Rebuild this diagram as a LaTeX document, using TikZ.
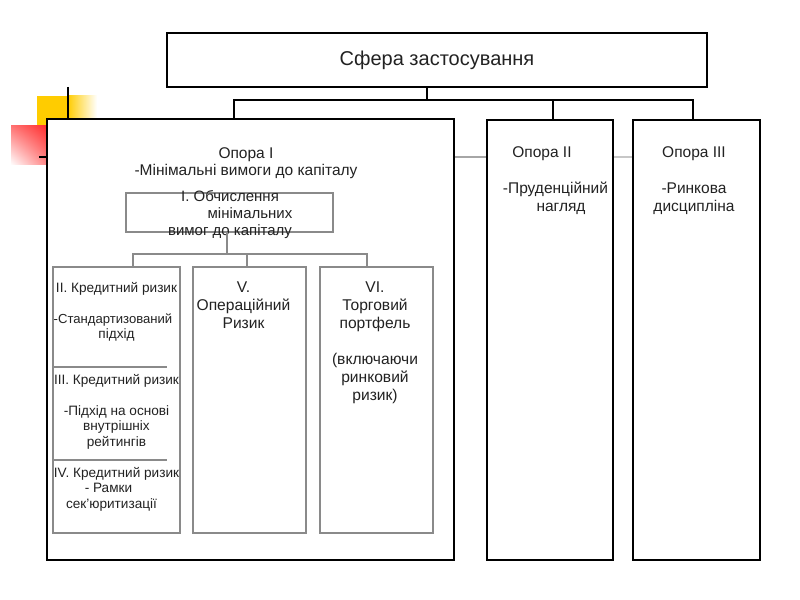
\documentclass[tikz,border=0pt]{standalone}
\usepackage{fontspec}
\setmainfont{Liberation Sans}
\usetikzlibrary{calc,backgrounds,shadings}
\definecolor{gold}{HTML}{FFCC00}
\definecolor{redd}{HTML}{FF2A2A}
\definecolor{boxgray}{HTML}{8A8A8A}
\definecolor{txt}{HTML}{222222}
\newcommand{\ftop}{\fontsize{20bp}{23bp}\selectfont}
\newcommand{\fpil}{\fontsize{15.5bp}{18bp}\selectfont}
\newcommand{\fpilone}{\fontsize{15.5bp}{17bp}\selectfont}
\newcommand{\finn}{\fontsize{15bp}{17bp}\selectfont}
\newcommand{\fcr}{\fontsize{13.6bp}{15.5bp}\selectfont}
\newcommand{\fcrs}{\fontsize{13.1bp}{15.5bp}\selectfont}
\newcommand{\frisk}{\fontsize{15.6bp}{18bp}\selectfont}
\begin{document}
\begin{tikzpicture}[x=1bp,y=-1bp,
  pillar/.style={draw=black, line width=1.8bp, fill=white, inner sep=0pt, outer sep=0pt, anchor=north west},
  inbox/.style={draw=boxgray, line width=1.2bp, fill=white, inner sep=0pt, outer sep=0pt, anchor=north west},
  label/.style={inner sep=0pt, anchor=north, align=center, text=txt},
  conn/.style={draw=black, line width=1.5bp},
  gconn/.style={draw=boxgray, line width=1.2bp},
  pline/.style={line width=2bp},
  deco/.style={draw=black, line width=1.5bp}]
\useasboundingbox (0,0) rectangle (800,600);

% main boxes
\node[pillar, minimum width=540bp, minimum height=54bp, font=\ftop, text=txt] (top) at (167,33) {Сфера застосування};
\node[pillar, minimum width=407bp, minimum height=441bp] (p1) at (47,119) {};
\node[pillar, minimum width=126bp, minimum height=440bp] (p2) at (487,120) {};
\node[pillar, minimum width=127bp, minimum height=440bp] (p3) at (633,120) {};

% pillar texts
\node[label, font=\fpilone] (t1) at (246,147.3) {Опора I\\-Мінімальні вимоги до капіталу};
\node[label, font=\fpil] (t2) at (555.5,146.3) {Опора II\mbox{\hspace{27bp}}\\[18bp]-Пруденційний\\\mbox{\hspace{11bp}}нагляд};
\node[label, font=\fpil] (t3) at (694,146.3) {Опора III\\[18bp]-Ринкова\\дисципліна};

% inner boxes
\node[inbox, minimum width=207bp, minimum height=39bp] (ib) at (126,193) {};
\node[label, font=\finn] (ti) at (230,190) {I. Обчислення\\\mbox{\hspace{40bp}}мінімальних\\вимог до капіталу};

\node[inbox, minimum width=127bp, minimum height=266bp] (bII) at (53,267) {};
\node[inbox, minimum width=113bp, minimum height=266bp] (bV) at (193,267) {};
\node[inbox, minimum width=113bp, minimum height=266bp] (bVI) at (320,267) {};

\draw[gconn] ($(bII.north west)+(0,100)$) -- ++(114,0);
\draw[gconn] ($(bII.north west)+(0,193)$) -- ++(114,0);

\node[label, font=\fcr] (tII) at (116.5,282) {II. Кредитний ризик\\[15.5bp]{\fcrs -Стандартизований}\mbox{\hspace{7bp}}\\підхід};
\node[label, font=\fcr] (tIII) at (116.5,374) {III. Кредитний ризик\\[15.5bp]-Підхід на основі\\внутрішніх\\рейтингів};
\node[label, font=\fcr] (tIV) at (116.5,467) {IV. Кредитний ризик\\- Рамки\mbox{\hspace{16bp}}\\сек'юритизації\mbox{\hspace{10bp}}};

\node[label, font=\frisk] (tV) at (243.5,281.2) {V.\\Операційний\\Ризик};
\node[label, font=\frisk] (tVI) at (375,281.2) {VI.\\Торговий\\портфель\\[18bp](включаючи\\ринковий\\ризик)};

% connectors
\draw[conn] ([xshift=-10bp]top.south) -- ++(0,13) coordinate (hub);
\draw[conn] ([xshift=-16.5bp]p1.north) |- (hub) -| ([xshift=-3.5bp]p3.north);
\draw[conn] (hub) -| ([xshift=3bp]p2.north);

\draw[gconn] ([xshift=-2.5bp]ib.south) -- ++(0,22) coordinate (ihub);
\draw[gconn] ([xshift=16.5bp]bII.north) |- (ihub) -| ([xshift=-9.5bp]bVI.north);
\draw[gconn] (ihub) -| ([xshift=-2.5bp]bV.north);

\begin{scope}[on background layer]
  % decoration squares
  \fill[gold] (37,96) rectangle (68,156);
  \shade[left color=gold, right color=white] (67.5,96) rectangle (97,156);
  \shade[upper right=redd, upper left=redd!65, lower right=redd!60, lower left=white] (11,126) rectangle (50,165);
  \draw[deco] (68,87) -- (68,120);
  \draw[deco] (39,157) -- (48,157);
  % grey links between pillars
  \draw[pline, draw=black!35] ($(p1.north east)+(0,38)$) -- ($(p2.north west)+(0,37)$);
  \draw[pline, draw=black!22] ($(p2.north east)+(0,37)$) -- ($(p3.north west)+(0,37)$);
\end{scope}
\end{tikzpicture}
\end{document}
